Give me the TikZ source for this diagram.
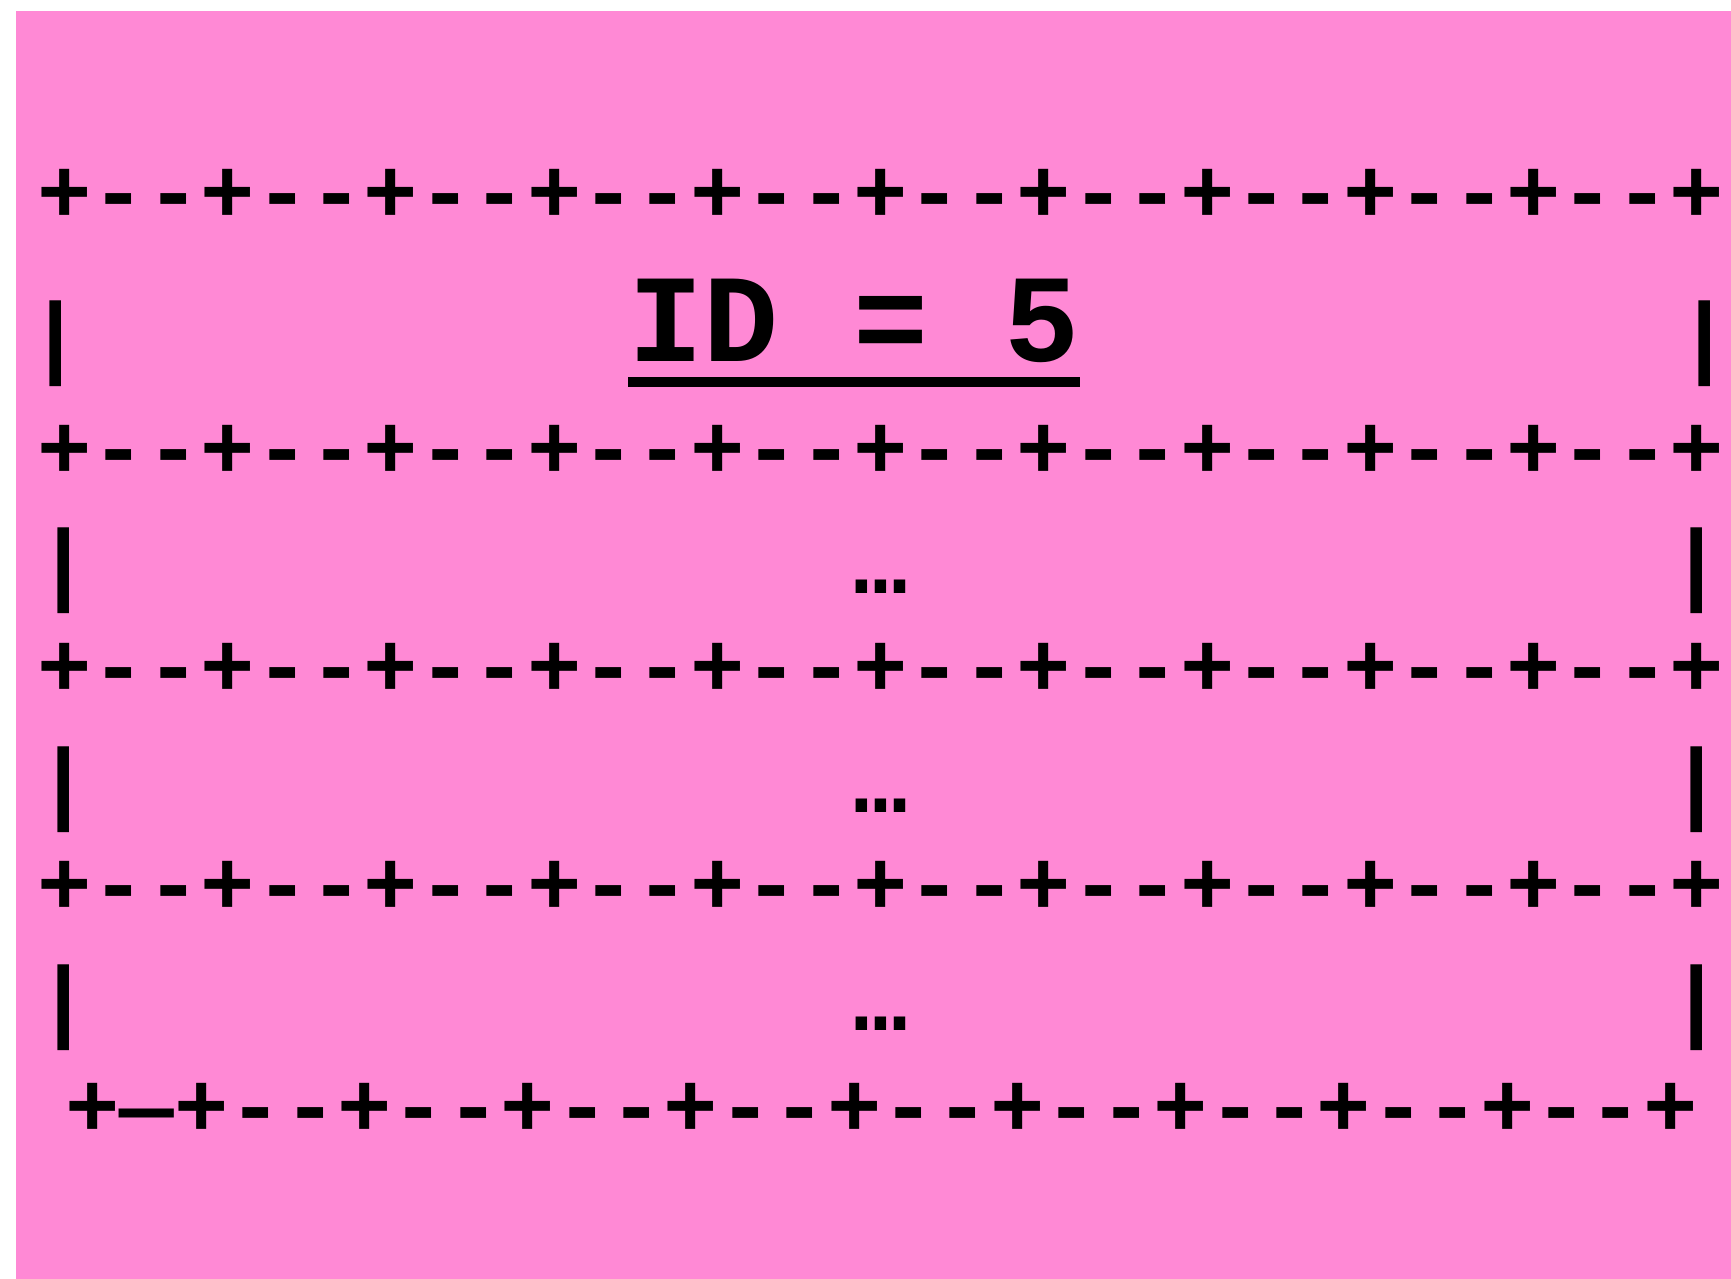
\documentclass[tikz,border=0pt]{standalone}
\usepackage{fontspec}
\setmonofont{Liberation Mono}
\usepackage{tikz}
\usetikzlibrary{calc}
\definecolor{cardpink}{RGB}{255,137,213}
\newcommand{\gridrow}{+--+--+--+--+--+--+--+--+--+--+}

\begin{document}
\begin{tikzpicture}[
    ascii/.style={inner sep=0pt, font=\ttfamily\bfseries\fontsize{25.8}{30}\selectfont},
    rule/.style={ascii, anchor=base west},
    bar/.style={ascii, anchor=base},
    dots/.style={ascii, anchor=base},
    title/.style={inner sep=0pt, anchor=base west, font=\ttfamily\bfseries\fontsize{35.6}{40}\selectfont},
]
\useasboundingbox (0,0) rectangle (17.31,12.79);
\fill[cardpink] (0.16,0) rectangle (17.31,12.68);

% horizontal borders
\node[rule] (R1) at (0.368,10.56) {\gridrow};
\node[rule] (R3) at (0.368,8.00)  {\gridrow};
\node[rule] (R5) at (0.368,5.82)  {\gridrow};
\node[rule] (R7) at (0.368,3.64)  {\gridrow};
\node[rule] (R9) at (0.648,1.42)  {+—+--+--+--+--+--+--+--+--+--+};

% title row
\node[bar]   (T1) at (0.56,9.12)  {|};
\node[bar]   (T2) at (17.05,9.12) {|};
\node[title] (id) at (6.28,9.17)  {ID = 5};
\draw[line width=3.1pt] ($(id.base west)+(0,-0.2)$) -- ($(id.base east)+(0,-0.2)$);

% body rows
\node[bar]  (A1) at (0.64,6.85)  {|};
\node[dots] (A2) at (8.805,6.85) {…};
\node[bar]  (A3) at (16.97,6.85) {|};
\node[bar]  (B1) at (0.64,4.66)  {|};
\node[dots] (B2) at (8.805,4.66) {…};
\node[bar]  (B3) at (16.97,4.66) {|};
\node[bar]  (C1) at (0.64,2.48)  {|};
\node[dots] (C2) at (8.805,2.48) {…};
\node[bar]  (C3) at (16.97,2.48) {|};
\end{tikzpicture}
\end{document}
